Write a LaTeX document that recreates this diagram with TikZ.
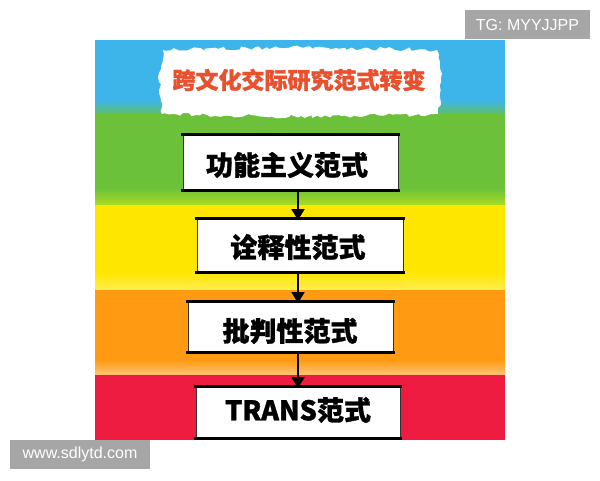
\documentclass[tikz,border=0pt]{standalone}
\usepackage{fontspec}
\newfontfamily\cjk{Noto Sans CJK SC}[BoldFont={Noto Sans CJK SC Black}, BoldFeatures={FakeBold=1.2}]
\setsansfont{Liberation Sans}
\usetikzlibrary{decorations.pathmorphing,arrows.meta}
\definecolor{skyb}{HTML}{3DB5EA}
\definecolor{grn}{HTML}{6CC13A}
\definecolor{yel}{HTML}{FFE600}
\definecolor{org}{HTML}{FF9A12}
\definecolor{rd}{HTML}{EE1C40}
\definecolor{ttl}{HTML}{E8502E}
\definecolor{wmgray}{HTML}{A6A6A6}
\tikzset{
  stepbox/.style={fill=white, draw=black!80, line width=0.8pt, inner sep=0pt},
  steptext/.style={font=\cjk\bfseries\fontsize{27}{27}\selectfont, text=black},
  edgeline/.style={line width=3pt, black},
  flowarrow/.style={line width=1.8pt, black, -{Triangle[width=13pt,length=11pt]}},
  wmbox/.style={fill=wmgray, text=white, inner sep=0pt, font=\sffamily\fontsize{16}{16}\selectfont},
}
\begin{document}
\begin{tikzpicture}[x=1pt,y=-1pt]
\useasboundingbox (0,0) rectangle (600,480);
\fill[white] (0,0) rectangle (600,480);
% stripes
\fill[skyb] (95,40) rectangle (505,113);
\fill[grn] (95,112) rectangle (505,204);
\fill[yel] (95,203) rectangle (505,289);
\fill[org] (95,288) rectangle (505,374);
\fill[rd] (95,373) rectangle (505,440);
% soft transitions
\shade[top color=skyb, bottom color=grn!70!skyb] (95,100) rectangle (505,113);
\shade[top color=grn, bottom color=grn!60!yellow] (95,188) rectangle (505,204);
\shade[top color=yel, bottom color=yel!70!white] (95,272) rectangle (505,289);
\shade[top color=org, bottom color=org!60!white] (95,360) rectangle (505,374);
% title cloud
\fill[white, decorate, decoration={random steps, segment length=4pt, amplitude=2pt}]
  (163,50) -- (300,47) -- (437,50) -- (441,82) -- (438,114) -- (300,117) -- (162,114) -- (159,82) -- cycle;
\node[text=ttl, font=\cjk\bfseries\fontsize{23}{23}\selectfont] (title) at (299,80) {跨文化交际研究范式转变};
% boxes
\node[stepbox, minimum width=215pt, minimum height=55pt] (b1) at (290.5,162.5) {};
\node[stepbox, minimum width=206pt, minimum height=53pt] (b2) at (300,245.5) {};
\node[stepbox, minimum width=205pt, minimum height=50pt] (b3) at (290.5,327) {};
\node[stepbox, minimum width=204pt, minimum height=51pt] (b4) at (298,412.5) {};
\node[steptext] (t1) at (287,165) {功能主义范式};
\node[steptext] (t2) at (298,247) {诠释性范式};
\node[steptext] (t3) at (290,331) {批判性范式};
\node[steptext] (t4) at (298,410) {TRANS范式};
\foreach \b in {b1,b2,b3,b4}{
  \draw[edgeline] ([xshift=-2pt]\b.north west) -- ([xshift=2pt]\b.north east);
  \draw[edgeline] ([xshift=-2pt]\b.south west) -- ([xshift=2pt]\b.south east);
}
% arrows
\coordinate (ax) at (298,0);
\draw[flowarrow] (b1.south -| ax) -- ([yshift=-1.5pt]b2.north -| ax);
\draw[flowarrow] (b2.south -| ax) -- ([yshift=-1.5pt]b3.north -| ax);
\draw[flowarrow] (b3.south -| ax) -- ([yshift=-1.5pt]b4.north -| ax);
% watermarks
\node[wmbox, minimum width=125pt, minimum height=29pt] (wm1) at (527.5,24.5) {TG: MYYJJPP};
\node[wmbox, minimum width=140pt, minimum height=29pt] (wm2) at (80,454.5) {www.sdlytd.com};
\end{tikzpicture}
\end{document}
